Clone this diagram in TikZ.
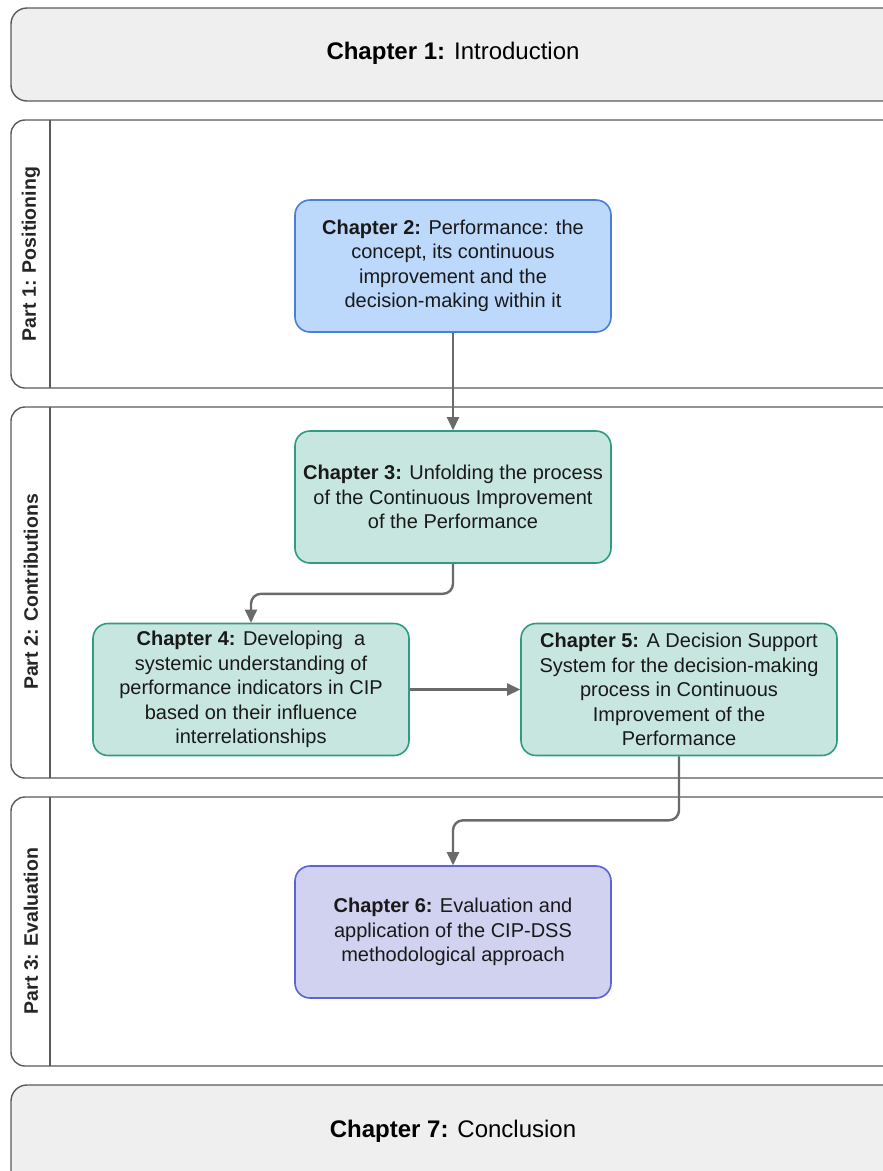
\documentclass[tikz,border=0pt]{standalone}
\usepackage{fontspec}
\setmainfont{Liberation Sans}
\usetikzlibrary{arrows.meta}
\definecolor{bannerfill}{HTML}{EFEFEF}
\definecolor{lanedraw}{HTML}{5A5A5A}
\definecolor{bluefill}{HTML}{BCD8FB}
\definecolor{bluedraw}{HTML}{4A7FD8}
\definecolor{greenfill}{HTML}{C8E6E0}
\definecolor{greendraw}{HTML}{2E9C80}
\definecolor{violetfill}{HTML}{D0D2F0}
\definecolor{violetdraw}{HTML}{5C62D8}
\definecolor{arrowgray}{HTML}{6A6A6A}
\tikzset{
  lanebox/.style={draw=lanedraw, line width=1.4pt, rounded corners=14pt, fill=white},
  banner/.style={draw=lanedraw, line width=1.4pt, rounded corners=16pt, fill=bannerfill},
  lanelabel/.style={rotate=90, font=\fontsize{19.5}{22}\selectfont\bfseries, text=black!85},
  chapbox/.style={rounded corners=15pt, line width=1.6pt, minimum width=316pt, minimum height=132pt,
    inner sep=0pt, align=center, font=\fontsize{20}{24.4}\selectfont, text=black!90},
  bluebox/.style={chapbox, fill=bluefill, draw=bluedraw},
  greenbox/.style={chapbox, fill=greenfill, draw=greendraw},
  violetbox/.style={chapbox, fill=violetfill, draw=violetdraw},
  flow/.style={draw=arrowgray, line width=2.4pt, rounded corners=10pt,
    -{Triangle[length=13pt,width=12pt]}},
}
\begin{document}
\begin{tikzpicture}[x=1pt,y=-1pt]
\useasboundingbox (0,0) rectangle (883,1171);
\clip (0,0) rectangle (883,1171);
% banners
\draw[banner] (11,8) rectangle (920,101);
\node[font=\fontsize{24}{28}\selectfont] (ch1) at (453,53) {\textbf{Chapter 1:} Introduction};
\draw[banner] (11,1085) rectangle (920,1200);
\node[font=\fontsize{24}{28}\selectfont] (ch7) at (453,1131) {\textbf{Chapter 7:} Conclusion};
% lanes
\draw[lanebox] (11,120) rectangle (920,388);
\draw[lanedraw, line width=1.4pt] (50,120) -- (50,388);
\node[lanelabel] (p1) at (31,254) {Part 1: Positioning};
\draw[lanebox] (11,407) rectangle (920,778);
\draw[lanedraw, line width=1.4pt] (50,407) -- (50,778);
\node[lanelabel] (p2) at (31,592) {Part 2: Contributions};
\draw[lanebox] (11,797) rectangle (920,1066);
\draw[lanedraw, line width=1.4pt] (50,797) -- (50,1066);
\node[lanelabel] (p3) at (31,931) {Part 3: Evaluation};
% chapters
\node[bluebox] (ch2) at (453,266) {\textbf{Chapter 2:} Performance: the\\concept, its continuous\\improvement and the\\decision-making within it};
\node[greenbox] (ch3) at (453,497) {\textbf{Chapter 3:} Unfolding the process\\of the Continuous Improvement\\of the Performance};
\node[greenbox] (ch4) at (251,689.5) {\textbf{Chapter 4:} Developing\ \ a\\systemic understanding of\\performance indicators in CIP\\based on their influence\\interrelationships};
\node[greenbox] (ch5) at (679,689.5) {\textbf{Chapter 5:} A Decision Support\\System for the decision-making\\process in Continuous\\Improvement of the\\Performance};
\node[violetbox] (ch6) at (453,932) {\textbf{Chapter 6:} Evaluation and\\application of the CIP-DSS\\methodological approach};
% connectors
\draw[flow] (ch2.south) -- (ch3.north);
\draw[flow] (ch3.south) -- ++(0,30) -| (ch4.north);
\draw[flow, rounded corners=0pt] (ch4.east) -- (ch5.west);
\draw[flow] (ch5.south) -- ++(0,64) -| (ch6.north);
\end{tikzpicture}
\end{document}
